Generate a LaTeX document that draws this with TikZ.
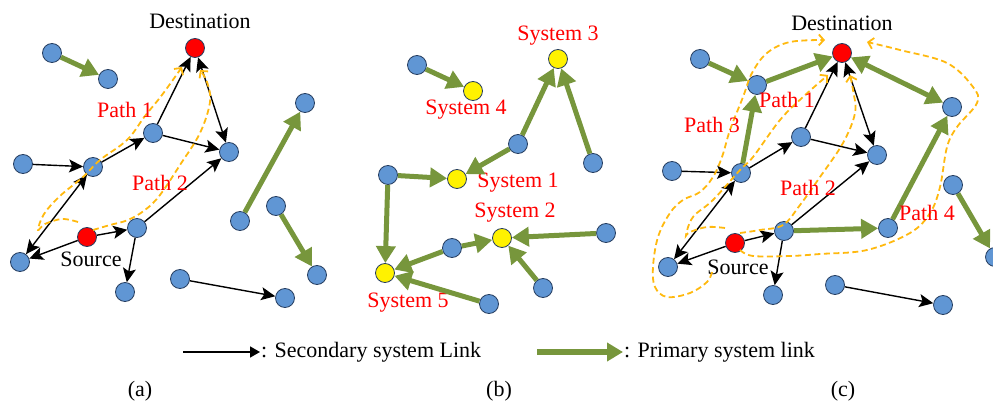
\documentclass[tikz,border=0pt]{standalone}
\usepackage{fontspec}
\setmainfont{Liberation Serif}
\usetikzlibrary{arrows.meta}
\usetikzlibrary{positioning}

\definecolor{devblue}{RGB}{96,150,212}
\definecolor{devedge}{RGB}{38,62,96}
\definecolor{primgreen}{RGB}{119,150,60}
\definecolor{routeyellow}{RGB}{255,185,15}

\tikzset{
  dev/.style={circle, draw=devedge, line width=0.8pt, fill=devblue, minimum size=19pt, inner sep=0pt},
  endpt/.style={dev, fill=red},
  sysnode/.style={dev, fill=yellow},
  seclink/.style={black, line width=1.4pt, -{Stealth[length=14pt,width=13pt,inset=3pt]}},
  secboth/.style={black, line width=1.4pt, {Stealth[length=14pt,width=13pt,inset=3pt]}-{Stealth[length=14pt,width=13pt,inset=3pt]}},
  primlink/.style={primgreen, line width=5pt, -{Triangle[length=17pt,width=19pt]}},
  primboth/.style={primgreen, line width=5pt, {Triangle[length=17pt,width=19pt]}-{Triangle[length=17pt,width=19pt]}},
  route/.style={routeyellow, line width=1.8pt, dash pattern=on 6pt off 3.5pt, -{Straight Barb[length=5pt,width=11pt]}},
  redlbl/.style={red, font=\fontsize{22}{25}\selectfont, inner sep=0pt},
  blklbl/.style={black, font=\fontsize{22}{25}\selectfont, inner sep=0pt},
}

\begin{document}
\begin{tikzpicture}[x=1pt,y=-1pt]
\useasboundingbox (0,0) rectangle (993,403);

%panel (a)
\node[endpt] (adst) at (195,48) {};
\node[blklbl] (adstlbl) at (200,21) {Destination};
\node[dev] (a1) at (52,53) {};
\node[dev] (a2) at (108,79) {};
\node[dev] (a3) at (153,133) {};
\node[dev] (a4) at (229,152) {};
\node[dev] (a5) at (23,164) {};
\node[dev] (a6) at (93,167) {};
\node[dev] (a7) at (20,262) {};
\node[endpt] (asrc) at (87,237) {};
\node[blklbl] (asrclbl) at (91,259) {Source};
\node[dev] (a8) at (137,228) {};
\node[dev] (a9) at (125,292) {};
\node[dev] (a10) at (305,103) {};
\node[dev] (a11) at (240,221) {};
\node[dev] (a12) at (276,206) {};
\node[dev] (a13) at (317,275) {};
\node[dev] (a14) at (180,279) {};
\node[dev] (a15) at (285,298) {};

\draw[primlink] (a1) -- (a2);
\draw[primlink] (a11) -- (a10);
\draw[primlink] (a12) -- (a13);
\draw[seclink] (a5) -- (a6);
\draw[seclink] (a6) -- (a3);
\draw[seclink] (a3) -- (adst);
\draw[seclink] (a3) -- (a4);
\draw[secboth] (adst) -- (a4);
\draw[secboth] (a7) -- (a6);
\draw[seclink] (asrc) -- (a7);
\draw[seclink] (asrc) -- (a8);
\draw[seclink] (a8) -- (a4);
\draw[seclink] (a8) -- (a9);
\draw[seclink] (a14) -- (a15);

%routes (a)
\draw[route] plot[smooth, tension=0.6] coordinates {(78,222) (62,219) (45,224) (38,230) (44,214) (60,196) (83,177) (100,160) (127,140) (145,116) (162,95) (182,67)};
\draw[route] plot[smooth, tension=0.6] coordinates {(93,230) (110,225) (128,220) (145,210) (160,195) (180,165) (200,133) (210,102) (207,82) (200,70)};
\node[redlbl] (ap1) at (125,110) {Path 1};
\node[redlbl] (ap2) at (160,183) {Path 2};

%panel (b)
\node[dev] (b1) at (417,65) {};
\node[sysnode] (s4) at (473,91) {};
\node[sysnode] (s3) at (558,59) {};
\node[dev] (b2) at (518,144) {};
\node[dev] (b3) at (593,163) {};
\node[sysnode] (s1) at (457,179) {};
\node[dev] (b4) at (388,175) {};
\node[sysnode] (s2) at (502,238) {};
\node[dev] (b5) at (606,233) {};
\node[dev] (b6) at (452,248) {};
\node[sysnode] (s5) at (385,273) {};
\node[dev] (b7) at (543,288) {};
\node[dev] (b8) at (489,304) {};

\node[redlbl] (s3lbl) at (558,36) {System 3};
\node[redlbl] (s4lbl) at (466,110) {System 4};
\node[redlbl] (s1lbl) at (518,183) {System 1};
\node[redlbl] (s2lbl) at (515,213) {System 2};
\node[redlbl] (s5lbl) at (408,303) {System 5};

\draw[primlink] (b1) -- (s4);
\draw[primlink] (b2) -- (s3);
\draw[primlink] (b3) -- (s3);
\draw[primlink] (b2) -- (s1);
\draw[primlink] (b4) -- (s1);
\draw[primlink] (b4) -- (s5);
\draw[primlink] (b6) -- (s5);
\draw[primlink] (b6) -- (s2);
\draw[primlink] (b5) -- (s2);
\draw[primlink] (b7) -- (s2);
\draw[primlink] (b8) -- (s5);

%panel (c)
\node[endpt] (cdst) at (842,53) {};
\node[blklbl] (cdstlbl) at (842,23) {Destination};
\node[dev] (c1) at (700,59) {};
\node[dev] (c2) at (757,85) {};
\node[dev] (c3) at (952,107) {};
\node[dev] (c4) at (801,137) {};
\node[dev] (c5) at (877,155) {};
\node[dev] (c6) at (672,171) {};
\node[dev] (c7) at (741,173) {};
\node[dev] (c8) at (953,185) {};
\node[dev] (c9) at (888,228) {};
\node[dev] (c10) at (784,231) {};
\node[endpt] (csrc) at (735,243) {};
\node[blklbl] (csrclbl) at (738,267) {Source};
\node[dev] (c11) at (668,267) {};
\node[dev] (c12) at (995,257) {};
\node[dev] (c13) at (773,295) {};
\node[dev] (c14) at (835,285) {};
\node[dev] (c15) at (943,305) {};

\draw[primlink] (c1) -- (c2);
\draw[primlink] (c2) -- (cdst);
\draw[primlink] (c7) -- (c2);
\draw[primboth] (cdst) -- (c3);
\draw[primlink] (c9) -- (c3);
\draw[primlink] (c10) -- (c9);
\draw[primlink] (c8) -- (c12);
\draw[seclink] (c6) -- (c7);
\draw[seclink] (c7) -- (c4);
\draw[seclink] (c4) -- (cdst);
\draw[seclink] (c4) -- (c5);
\draw[secboth] (cdst) -- (c5);
\draw[secboth] (c11) -- (c7);
\draw[seclink] (csrc) -- (c11);
\draw[seclink] (csrc) -- (c10);
\draw[seclink] (c10) -- (c5);
\draw[seclink] (c10) -- (c13);
\draw[seclink] (c14) -- (c15);

%routes (c)
\draw[route] plot[smooth, tension=0.6] coordinates {(725,228) (707,227) (690,232) (686,235) (693,217) (713,200) (740,170) (753,157) (780,120) (803,97) (828,75)};
\draw[route] plot[smooth, tension=0.6] coordinates {(740,233) (760,230) (783,225) (800,205) (820,177) (843,143) (855,113) (853,90) (850,75)};
\draw[route] plot[smooth, tension=0.6] coordinates {(712,272) (707,282) (690,293) (667,297) (655,287) (653,267) (658,237) (670,213) (683,200) (700,192) (713,177) (722,157) (730,130) (743,97) (752,73) (767,53) (790,42) (825,40)};
\draw[route] plot[smooth, tension=0.6] coordinates {(740,250) (753,256) (790,256) (820,254) (867,250) (910,233) (930,213) (940,187) (947,147) (957,127) (977,103) (973,87) (947,63) (900,50) (867,42)};
\node[redlbl] (cp1) at (787,100) {Path 1};
\node[redlbl] (cp2) at (808,188) {Path 2};
\node[redlbl] (cp3) at (712,125) {Path 3};
\node[redlbl] (cp4) at (927,213) {Path 4};

%legend
\coordinate (secs) at (183,352);
\coordinate (sece) at (260,352);
\draw[black, line width=1.6pt, -{Triangle[length=10pt,width=11pt]}] (secs) -- (sece);
\node[blklbl, anchor=west] (seclbl) at (261,352) {: Secondary system Link};
\coordinate (prims) at (537,352);
\coordinate (prime) at (623,352);
\draw[primgreen, line width=6pt, -{Triangle[length=16pt,width=18pt]}] (prims) -- (prime);
\node[blklbl, anchor=west] (primlbl) at (624,352) {: Primary system link};

%captions
\node[blklbl] (capa) at (140,391) {(a)};
\node[blklbl] (capb) at (499,391) {(b)};
\node[blklbl] (capc) at (843,391) {(c)};

\end{tikzpicture}
\end{document}
